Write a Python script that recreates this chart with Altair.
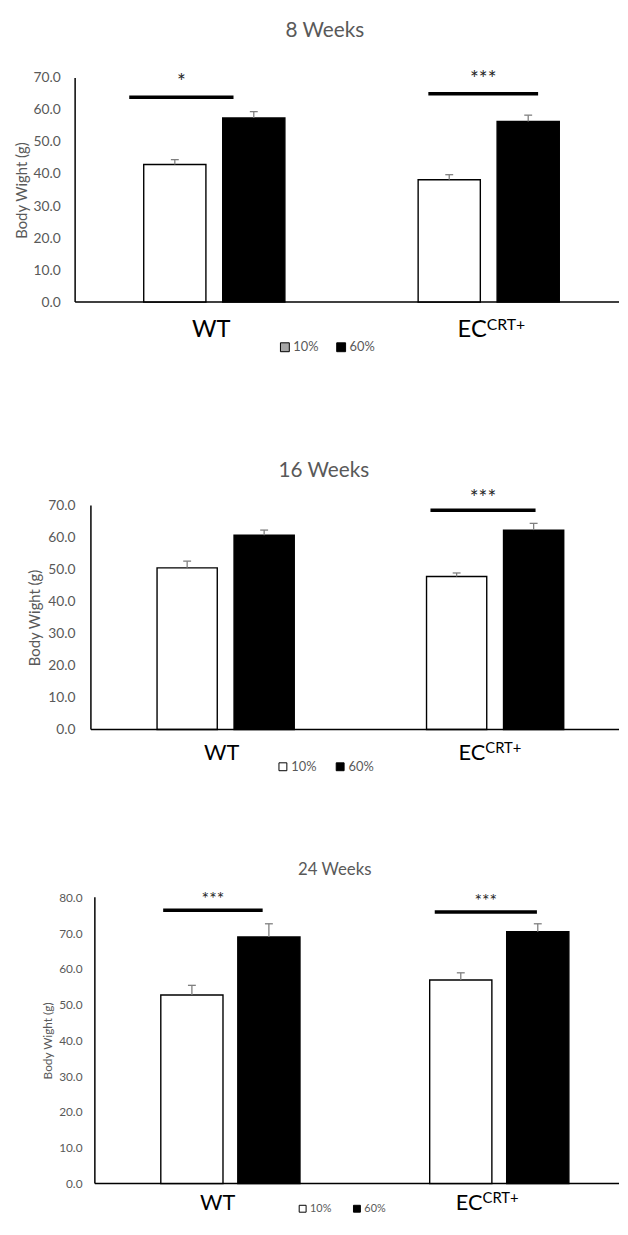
import altair as alt
import pandas as pd

# ---------------- data ----------------
groups = ["WT", "EC"]
diets = ["10%", "60%"]
cat_main = ["WT", "EC"]
cat_sup = ["", "CRT+"]
panel_titles = ["8 Weeks", "16 Weeks", "24 Weeks"]
y_title = "Body Wight (g)"

# bar order: WT-10%, WT-60%, EC-10%, EC-60%
bar_group = ["WT", "WT", "EC", "EC"]
bar_diet = ["10%", "60%", "10%", "60%"]

mean_8 = [43.0, 57.5, 38.2, 56.4]
err_8 = [1.5, 2.0, 1.6, 2.0]
mean_16 = [50.5, 60.7, 47.8, 62.3]
err_16 = [2.1, 1.6, 1.1, 2.1]
mean_24 = [52.7, 68.9, 56.9, 70.4]
err_24 = [2.7, 3.7, 2.0, 2.2]

# significance bars: group, start / end (category units around the group centre), height, label
sig_group_8 = ["WT", "EC"]
sig_from_8 = [-0.31, -0.22]
sig_to_8 = [0.07, 0.18]
sig_y_8 = [64.0, 65.1]
sig_mark_8 = ["*", "***"]

sig_group_16 = ["EC"]
sig_from_16 = [-0.24]
sig_to_16 = [0.15]
sig_y_16 = [68.5]
sig_mark_16 = ["***"]

sig_group_24 = ["WT", "EC"]
sig_from_24 = [-0.25, -0.24]
sig_to_24 = [0.12, 0.14]
sig_y_24 = [76.4, 75.9]
sig_mark_24 = ["***", "***"]

# ---------------- style ----------------
GRAY = "#595959"
EBC = "#7f7f7f"
FONT = "Lato"
W = 551

styles = [
    dict(ymax=70, H=290, top=63, shift=0, c0=141.0, step=278.0, bar_px=63, gap_px=17,
         lab_size=14, lab_pad=15, yt_size=15, yt_x=-54,
         t_size=21, t_x=253, t_y=15,
         cat_size=24, sup_size=16, cat_dy=35, sup_raise=7, wt_dx=-3, ec_dx=-2,
         leg_x=206, leg_y=329, leg_font=13, leg_sym=81, leg_pad=16, leg_fill=["#a6a6a6", "black"],
         star_size=21, star_dy=-8, bottom=346),
    dict(ymax=70, H=377, top=150, shift=16, c0=152.5, step=273.0, bar_px=61, gap_px=17,
         lab_size=14, lab_pad=16, yt_size=15, yt_x=-57,
         t_size=21, t_x=252, t_y=115,
         cat_size=22, sup_size=15, cat_dy=31, sup_raise=7, wt_dx=-4, ec_dx=-10,
         leg_x=204, leg_y=408, leg_font=13, leg_sym=64, leg_pad=17, leg_fill=["white", "black"],
         star_size=21, star_dy=-5, bottom=425),
    dict(ymax=80, H=412, top=122, shift=20, c0=157.3, step=272.4, bar_px=63, gap_px=15,
         lab_size=12, lab_pad=13, yt_size=12, yt_x=-48,
         t_size=17, t_x=263, t_y=94,
         cat_size=22, sup_size=15, cat_dy=27, sup_raise=7, wt_dx=-13, ec_dx=-17,
         leg_x=225, leg_y=432, leg_font=11, leg_sym=49, leg_pad=20, leg_fill=["white", "black"],
         star_size=18, star_dy=-5, bottom=None),
]


def panel(title, mean, err, sg, sf, st, sy, sm, s):
    step = s["step"]
    bw = s["bar_px"] / step          # bar width in category units
    half_gap = s["gap_px"] / 2 / step
    cap = 4.0 / step                 # half-width of error-bar cap

    bars = pd.DataFrame({"group": bar_group, "diet": bar_diet, "mean": mean, "err": err})
    bars["top"] = bars["mean"] + bars["err"]
    idx = [groups.index(g) for g in bar_group]
    side = [-1 if d == diets[0] else 1 for d in bar_diet]
    bars["x1"] = [i + sd * half_gap for i, sd in zip(idx, side)]
    bars["x2"] = [i + sd * (half_gap + bw) for i, sd in zip(idx, side)]
    bars["xc"] = (bars["x1"] + bars["x2"]) / 2
    bars["c1"] = bars["xc"] - cap
    bars["c2"] = bars["xc"] + cap

    cats = pd.DataFrame({"group": groups, "main": cat_main, "sup": cat_sup,
                         "pos": list(range(len(groups)))})
    tdf = pd.DataFrame({"title": [title]})
    sig = pd.DataFrame({"group": sg, "from": sf, "to": st, "y": sy, "mark": sm})
    sig["idx"] = [groups.index(g) for g in sg]
    sig["u1"] = sig["idx"] + sig["from"]
    sig["u2"] = sig["idx"] + sig["to"]
    sig["um"] = (sig["u1"] + sig["u2"]) / 2

    shift = s["shift"]
    c0 = s["c0"]
    xd = [(shift - c0) / step, (W - c0) / step]
    xscale = alt.Scale(domain=xd, range=[shift, W], nice=False, zero=False)
    yscale = alt.Scale(domain=[0, s["ymax"]], range=[s["H"], s["top"]], nice=False)

    xaxis = alt.Axis(labels=False, ticks=False, title=None, grid=False, domain=False)
    yaxis = alt.Axis(values=list(range(0, s["ymax"] + 1, 10)), format=".1f", grid=False,
                     ticks=False, tickSize=0, domain=False, labelPadding=s["lab_pad"],
                     labelFontSize=s["lab_size"], labelColor=GRAY, labelFont=FONT,
                     offset=-shift,
                     title=y_title, titleFontSize=s["yt_size"], titleColor=GRAY,
                     titleFont=FONT, titleFontWeight="normal", titleX=s["yt_x"],
                     titleBaseline="middle")

    def X(f):
        return alt.X(f, type="quantitative", scale=xscale, axis=xaxis)

    def Y(f):
        return alt.Y(f, type="quantitative", scale=yscale, axis=yaxis)

    frame = pd.DataFrame({"k": [0]})
    base_l = alt.Chart(frame).mark_rule(color="black", strokeWidth=1.5).encode(
        x=alt.XDatum(xd[0], type="quantitative", scale=xscale, axis=xaxis),
        x2=alt.X2Datum(xd[1]),
        y=alt.YDatum(0, type="quantitative", scale=yscale, axis=yaxis))
    yline_l = alt.Chart(frame).mark_rule(color="black", strokeWidth=1.5).encode(
        x=alt.XDatum(xd[0], type="quantitative", scale=xscale, axis=xaxis),
        y=alt.YDatum(0, type="quantitative", scale=yscale, axis=yaxis),
        y2=alt.Y2Datum(s["ymax"]))

    bars_l = alt.Chart(bars).mark_bar(stroke="black", strokeWidth=1.4).encode(
        x=X("x1"), x2="x2:Q",
        y=Y("mean"), y2=alt.datum(0),
        color=alt.condition(alt.datum.diet == diets[0], alt.value("white"), alt.value("black")),
    )
    legend_l = alt.Chart(bars).mark_square(opacity=0, stroke="black").encode(
        x=X("xc"), y=Y("mean"),
        fill=alt.Fill("diet:N", scale=alt.Scale(domain=diets, range=s["leg_fill"]),
                      legend=alt.Legend(orient="none", legendX=s["leg_x"], legendY=s["leg_y"],
                                        direction="horizontal", title=None,
                                        symbolType="square", symbolSize=s["leg_sym"],
                                        symbolStrokeColor="black", symbolStrokeWidth=1,
                                        symbolOpacity=1, labelFontSize=s["leg_font"],
                                        labelColor=GRAY, labelFont=FONT, labelOffset=2,
                                        columnPadding=s["leg_pad"])),
    )
    err_l = alt.Chart(bars).mark_rule(color=EBC, strokeWidth=1.3).encode(
        x=X("xc"), y=Y("mean"), y2="top:Q")
    cap_l = alt.Chart(bars).mark_rule(color=EBC, strokeWidth=1.3).encode(
        x=X("c1"), x2="c2:Q", y=Y("top"))

    lab_y = alt.value(s["H"] + s["cat_dy"])
    wt_l = alt.Chart(cats).transform_filter(alt.datum.group == "WT").mark_text(
        align="center", baseline="alphabetic", fontSize=s["cat_size"], font=FONT,
        color="black", dx=s["wt_dx"]).encode(x=X("pos"), y=lab_y, text="main:N")
    ec_l = alt.Chart(cats).transform_filter(alt.datum.group == "EC").mark_text(
        align="right", baseline="alphabetic", fontSize=s["cat_size"], font=FONT,
        color="black", dx=s["ec_dx"]).encode(x=X("pos"), y=lab_y, text="main:N")
    sup_l = alt.Chart(cats).transform_filter(alt.datum.group == "EC").mark_text(
        align="left", baseline="alphabetic", fontSize=s["sup_size"], font=FONT,
        color="black", dx=s["ec_dx"], dy=-s["sup_raise"]).encode(
        x=X("pos"), y=lab_y, text="sup:N")
    title_l = alt.Chart(tdf).mark_text(
        align="center", baseline="middle", fontSize=s["t_size"], font=FONT,
        color=GRAY).encode(x=alt.value(s["t_x"]), y=alt.value(s["t_y"]), text="title:N")

    sig_l = alt.Chart(sig).mark_rule(strokeWidth=3.5, color="black").encode(
        x=X("u1"), x2="u2:Q", y=Y("y"))
    star_l = alt.Chart(sig).mark_text(
        fontSize=s["star_size"], font=FONT, color="#262626", baseline="alphabetic",
        dy=s["star_dy"]).encode(x=X("um"), y=Y("y"), text="mark:N")

    layers = [bars_l, base_l, yline_l, legend_l, err_l, cap_l, sig_l, star_l,
              wt_l, ec_l, sup_l, title_l]
    if s["bottom"] is not None:
        # invisible marker fixing where this panel's block ends
        layers.append(alt.Chart(frame).mark_rule(opacity=0, strokeWidth=0).encode(
            x=alt.value(0), x2=alt.value(1), y=alt.value(s["bottom"])))
    return alt.layer(*layers).properties(width=W, height=s["H"])


p1 = panel(panel_titles[0], mean_8, err_8, sig_group_8, sig_from_8, sig_to_8, sig_y_8,
           sig_mark_8, styles[0])
p2 = panel(panel_titles[1], mean_16, err_16, sig_group_16, sig_from_16, sig_to_16, sig_y_16,
           sig_mark_16, styles[1])
p3 = panel(panel_titles[2], mean_24, err_24, sig_group_24, sig_from_24, sig_to_24, sig_y_24,
           sig_mark_24, styles[2])

chart = alt.vconcat(p1, p2, p3, spacing=0).resolve_scale(
    fill="independent"
).resolve_legend(fill="independent").properties(
    padding={"left": 7, "top": 0, "right": 0, "bottom": 0}
).configure(font=FONT).configure_view(stroke=None)

chart.save("out.html", embed_options={"renderer": "svg", "actions": False})
